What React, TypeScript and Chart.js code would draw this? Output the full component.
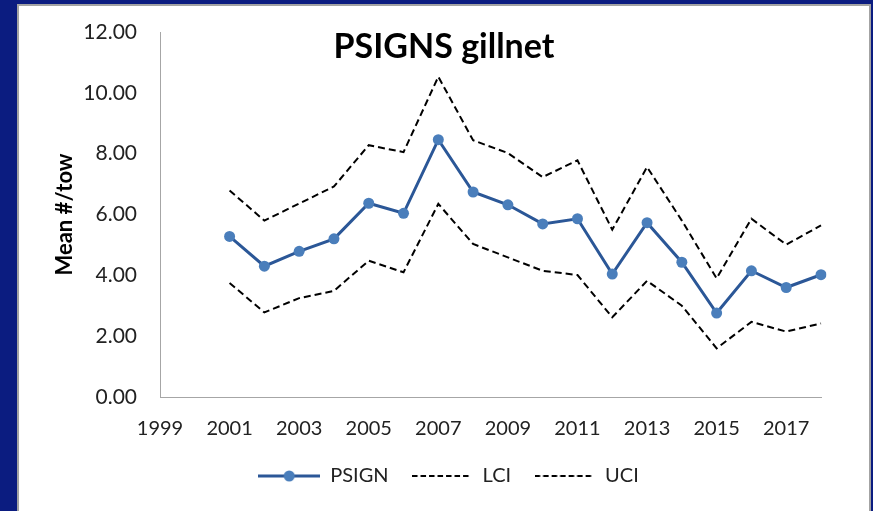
import { useEffect, useRef } from 'react';
import { Chart, registerables } from 'chart.js';

Chart.register(...registerables);

const titleText = 'PSIGNS gillnet';
const yAxisTitle = 'Mean #/tow';
const years = ['1999', '2000', '2001', '2002', '2003', '2004', '2005', '2006', '2007', '2008', '2009', '2010', '2011', '2012', '2013', '2014', '2015', '2016', '2017', '2018'];
const psign = [null, null, 5.28, 4.3, 4.79, 5.2, 6.37, 6.04, 8.46, 6.74, 6.32, 5.69, 5.86, 4.04, 5.73, 4.43, 2.76, 4.15, 3.6, 4.02];
const lci = [null, null, 3.75, 2.78, 3.25, 3.49, 4.48, 4.1, 6.35, 5.03, 4.59, 4.15, 4.01, 2.62, 3.82, 3.0, 1.6, 2.47, 2.15, 2.42];
const uci = [null, null, 6.79, 5.8, 6.36, 6.92, 8.28, 8.05, 10.53, 8.44, 8.02, 7.23, 7.78, 5.5, 7.56, 5.8, 3.9, 5.86, 5.01, 5.64];
const seriesNames = ['PSIGN', 'LCI', 'UCI'];

const LINE_BLUE = '#2b5797';
const MARK_BLUE = '#4a7ebb';
const FONT = 'Lato, "Open Sans", sans-serif';

function makeSample(kind: 'marker' | 'dash'): HTMLCanvasElement {
  const c = document.createElement('canvas');
  c.width = kind === 'marker' ? 62 : 59;
  c.height = 14;
  const ctx = c.getContext('2d')!;
  ctx.beginPath();
  if (kind === 'marker') {
    ctx.strokeStyle = LINE_BLUE;
    ctx.lineWidth = 3;
    ctx.moveTo(0, 7);
    ctx.lineTo(c.width, 7);
    ctx.stroke();
    ctx.beginPath();
    ctx.fillStyle = MARK_BLUE;
    ctx.arc(c.width / 2, 7, 5.5, 0, Math.PI * 2);
    ctx.fill();
  } else {
    ctx.strokeStyle = '#000';
    ctx.lineWidth = 2;
    ctx.setLineDash([5.5, 3]);
    ctx.moveTo(0, 7);
    ctx.lineTo(c.width, 7);
    ctx.stroke();
  }
  return c;
}

const titlePlugin = {
  id: 'insideTitle',
  afterDraw(chart: any) {
    const ctx = chart.ctx;
    ctx.save();
    ctx.font = `bold 34px ${FONT}`;
    ctx.fillStyle = '#000';
    ctx.textAlign = 'center';
    ctx.textBaseline = 'alphabetic';
    ctx.fillText(titleText, chart.width / 2, chart.chartArea.top + 26);
    ctx.restore();
  },
};

export default function App() {
  const ref = useRef<HTMLCanvasElement>(null);

  useEffect(() => {
    if (!ref.current) return;
    const samples = [makeSample('marker'), makeSample('dash'), makeSample('dash')];
    const chart = new Chart(ref.current, {
      type: 'line',
      data: {
        labels: years,
        datasets: [
          {
            label: seriesNames[0],
            data: psign,
            borderColor: LINE_BLUE,
            borderWidth: 3,
            pointRadius: 5.5,
            pointBackgroundColor: MARK_BLUE,
            pointBorderColor: MARK_BLUE,
            pointBorderWidth: 0,
            tension: 0,
          },
          {
            label: seriesNames[1],
            data: lci,
            borderColor: '#000',
            borderWidth: 2,
            borderDash: [7, 4],
            pointRadius: 0,
            tension: 0,
          },
          {
            label: seriesNames[2],
            data: uci,
            borderColor: '#000',
            borderWidth: 2,
            borderDash: [7, 4],
            pointRadius: 0,
            tension: 0,
          },
        ],
      },
      options: {
        responsive: false,
        animation: false,
        layout: { padding: { left: 57, right: 48, top: 26, bottom: 15 } },
        plugins: {
          tooltip: { enabled: false },
          legend: {
            position: 'bottom',
            labels: {
              usePointStyle: true,
              pointStyleWidth: 62,
              padding: 22,
              color: '#222',
              font: { family: FONT, size: 20 },
              generateLabels: (ch: any) =>
                ch.data.datasets.map((ds: any, i: number) => ({
                  text: ds.label,
                  pointStyle: samples[i],
                  fillStyle: 'transparent',
                  strokeStyle: 'transparent',
                  lineWidth: 0,
                  hidden: false,
                  datasetIndex: i,
                  fontColor: '#222',
                })),
            },
          },
        },
        scales: {
          x: {
            type: 'category',
            offset: false,
            grid: { display: false, drawTicks: true, tickLength: 17 },
            border: { display: true, color: '#a6a6a6', width: 1 },
            ticks: {
              autoSkip: false,
              maxRotation: 0,
              padding: 3,
              color: '#222',
              font: { family: FONT, size: 20 },
              callback: (_v: any, i: number) => (Number(years[i]) % 2 === 1 ? years[i] : ''),
            },
          },
          y: {
            min: 0,
            max: 12,
            grid: { display: false, drawTicks: true, tickLength: 20 },
            border: { display: true, color: '#a6a6a6', width: 1 },
            afterFit: (s: any) => {
              s.width = 84;
            },
            ticks: {
              stepSize: 2,
              padding: 3,
              color: '#222',
              font: { family: FONT, size: 21 },
              callback: (v: any) => Number(v).toFixed(2),
            },
            title: {
              display: true,
              text: yAxisTitle,
              color: '#000',
              padding: { top: -24, bottom: 4 },
              font: { family: FONT, size: 22, weight: 'bold' },
            },
          },
        },
      },
      plugins: [titlePlugin],
    } as any);
    return () => chart.destroy();
  }, []);

  return (
    <div style={{ position: 'fixed', left: 0, top: 0, width: 873, height: 511, background: '#0b1c80', overflow: 'hidden' }}>
      <div style={{ position: 'absolute', left: 17, top: 4, width: 850, height: 520, border: '2px solid #a3a3a3', background: '#fff' }}>
        <canvas ref={ref} width={850} height={505} style={{ position: 'absolute', left: 0, top: 0, width: 850, height: 505 }} />
      </div>
    </div>
  );
}
